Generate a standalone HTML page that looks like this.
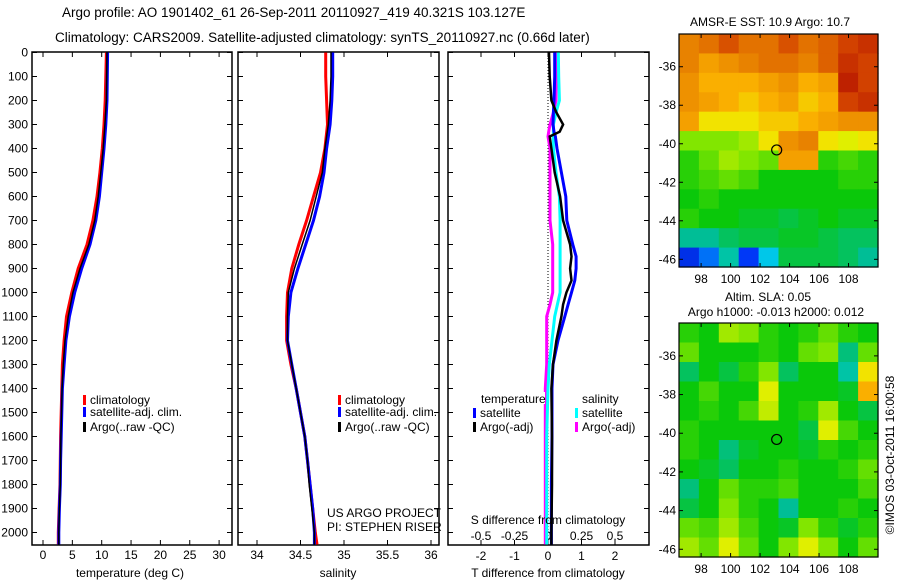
<!DOCTYPE html>
<html><head><meta charset="utf-8"><style>
html,body{margin:0;padding:0;background:#fff;width:900px;height:580px;overflow:hidden}
svg{display:block;font-family:"Liberation Sans",sans-serif;font-size:12px}
</style></head><body>
<svg id="fig" width="900" height="580" xmlns="http://www.w3.org/2000/svg">
<text x="62" y="17" style="font-size:13.5px">Argo profile: AO 1901402_61 26-Sep-2011 20110927_419 40.321S 103.127E</text>
<text x="55" y="42" style="font-size:13.5px">Climatology: CARS2009. Satellite-adjusted climatology: synTS_20110927.nc (0.66d later)</text>
<g id="g"></g>
</svg>
<script>
const depths=[0,100,200,300,400,500,600,700,800,900,1000,1100,1200,1300,1400,1500,1600,1700,1800,1900,2000,2050];
const tempClim=[10.8,10.7,10.6,10.4,10.1,9.7,9.2,8.5,7.5,6.0,4.9,4.0,3.6,3.3,3.2,3.1,3.0,2.95,2.9,2.75,2.6,2.6];
const tempSat=[11.0,10.95,10.9,10.7,10.4,10.0,9.6,9.0,8.0,6.6,5.4,4.5,3.9,3.6,3.3,3.2,3.1,3.0,2.95,2.8,2.7,2.7];
const tempArgo=[10.9,10.85,10.8,10.55,10.25,9.85,9.4,8.8,7.8,6.3,5.1,4.3,3.75,3.45,3.25,3.15,3.05,3.0,2.95,2.8,2.7,2.7];
const salClim=[34.79,34.79,34.80,34.81,34.78,34.73,34.65,34.57,34.48,34.40,34.35,34.34,34.34,34.39,34.45,34.50,34.55,34.58,34.61,34.64,34.67,34.69];
const salSat=[34.87,34.87,34.86,34.84,34.80,34.77,34.72,34.65,34.56,34.47,34.39,34.36,34.35,34.40,34.45,34.50,34.55,34.58,34.61,34.64,34.66,34.66];
const salArgo=[34.85,34.85,34.84,34.82,34.78,34.75,34.68,34.61,34.52,34.43,34.36,34.35,34.35,34.40,34.45,34.50,34.55,34.58,34.60,34.63,34.66,34.66];
const diffDepths=[0,100,200,250,300,330,350,400,500,600,700,800,850,900,950,1000,1050,1100,1200,1300,1400,1600,1800,2000,2050];
const tDiffSat=[0.2,0.2,0.18,0.16,0.15,0.18,0.22,0.27,0.4,0.53,0.56,0.74,0.84,0.84,0.8,0.7,0.6,0.5,0.3,0.15,0.12,0.12,0.1,0.1,0.1];
const tDiffArgo=[0.03,0.05,0.1,0.25,0.45,0.35,0.05,0.1,0.2,0.36,0.45,0.66,0.7,0.66,0.7,0.55,0.45,0.4,0.25,0.15,0.1,0.12,0.12,0.1,0.1];
const sDiffSat=[0.077,0.08,0.085,0.06,0.04,0.04,0.04,0.04,0.06,0.085,0.09,0.09,0.09,0.09,0.09,0.09,0.07,0.05,0.03,0.01,0,-0.01,-0.01,-0.01,-0.01];
const sDiffArgo=[0.06,0.06,0.06,0.04,0.015,0.005,0,0.015,0.015,0.015,0.015,0.035,0.035,0.035,0.035,0.035,0.015,-0.01,-0.01,-0.01,-0.02,-0.02,-0.02,-0.02,-0.02];
const depthTicks=[0,100,200,300,400,500,600,700,800,900,1000,1100,1200,1300,1400,1500,1600,1700,1800,1900,2000];
const tempTicks=[0,5,10,15,20,25,30];
const salTicks=[34,34.5,35,35.5,36];
const tDiffTicks=[-2,-1,0,1,2];
const sDiffTicks=[-0.5,-0.25,0,0.25,0.5];
const lonTicks=[98,100,102,104,106,108];
const latTicks=[-36,-38,-40,-42,-44,-46];
const sstGrid=[
[0.76,0.78,0.82,0.78,0.78,0.82,0.78,0.8,0.84,0.86],
[0.76,0.72,0.74,0.76,0.78,0.78,0.76,0.8,0.86,0.84],
[0.74,0.70,0.70,0.70,0.72,0.74,0.70,0.72,0.88,0.84],
[0.74,0.72,0.70,0.68,0.70,0.72,0.68,0.70,0.84,0.86],
[0.72,0.66,0.66,0.66,0.68,0.68,0.70,0.72,0.74,0.74],
[0.58,0.58,0.58,0.60,0.66,0.74,0.76,0.66,0.64,0.66],
[0.52,0.56,0.60,0.58,0.56,0.72,0.72,0.52,0.54,0.52],
[0.52,0.54,0.56,0.54,0.50,0.50,0.50,0.50,0.52,0.52],
[0.50,0.52,0.50,0.50,0.50,0.50,0.50,0.50,0.50,0.50],
[0.52,0.50,0.50,0.48,0.48,0.46,0.48,0.50,0.48,0.48],
[0.40,0.40,0.44,0.46,0.46,0.48,0.48,0.46,0.44,0.44],
[0.12,0.20,0.38,0.14,0.28,0.46,0.46,0.46,0.44,0.40]];
const slaGrid=[
[0.52,0.50,0.60,0.58,0.52,0.50,0.52,0.56,0.52,0.50],
[0.56,0.50,0.50,0.50,0.52,0.50,0.56,0.58,0.42,0.56],
[0.44,0.50,0.46,0.52,0.58,0.44,0.50,0.50,0.38,0.66],
[0.50,0.54,0.50,0.50,0.64,0.50,0.50,0.50,0.48,0.70],
[0.50,0.52,0.50,0.54,0.62,0.50,0.52,0.60,0.50,0.46],
[0.52,0.50,0.50,0.50,0.50,0.50,0.46,0.64,0.54,0.50],
[0.52,0.50,0.42,0.48,0.50,0.50,0.48,0.52,0.50,0.52],
[0.50,0.48,0.44,0.50,0.50,0.52,0.50,0.50,0.52,0.56],
[0.42,0.50,0.56,0.52,0.52,0.54,0.50,0.50,0.50,0.54],
[0.46,0.50,0.58,0.52,0.50,0.40,0.50,0.50,0.52,0.50],
[0.56,0.54,0.60,0.54,0.50,0.48,0.58,0.52,0.48,0.52],
[0.60,0.56,0.64,0.56,0.50,0.58,0.64,0.58,0.50,0.56]];
const floatLon=103.127, floatLat=-40.321;

const NS='http://www.w3.org/2000/svg';
const G=document.getElementById('g');
function mk(tag,at,parent){const e=document.createElementNS(NS,tag);for(const k in at)e.setAttribute(k,at[k]);(parent||G).appendChild(e);return e;}
function txt(x,y,s,anchor){const t=mk('text',{x:x,y:y,'text-anchor':anchor||'start'});t.textContent=s;return t;}
const Y=d=>52.5+d*0.24;
const PB=545;
const xT=v=>43+v*5.87, xS=v=>257+(v-34)*87, xTd=v=>548+v*33.5, xSd=v=>548+v*134;
function frame(x0,x1,name){
  const r=mk('rect',{x:x0,y:52,width:x1-x0,height:PB-52,fill:'none',stroke:'#000','stroke-width':1.5});
  
  
  depthTicks.forEach(d=>{mk('line',{x1:x0,x2:x0+5,y1:Y(d),y2:Y(d),stroke:'#000'});mk('line',{x1:x1-5,x2:x1,y1:Y(d),y2:Y(d),stroke:'#000'});});
}
function xticks(ticks,f,y){ticks.forEach(v=>{const x=f(v);mk('line',{x1:x,x2:x,y1:52,y2:57,stroke:'#000'});mk('line',{x1:x,x2:x,y1:PB-5,y2:PB,stroke:'#000'});const t=txt(x,y,String(v),'middle');});}
function line(xs,ds,f,col,name,w){const p=mk('polyline',{points:xs.map((v,i)=>f(v).toFixed(1)+','+Y(ds[i]).toFixed(1)).join(' '),fill:'none',stroke:col,'stroke-width':w||3});}
depthTicks.forEach(d=>{const t=txt(28,Y(d)+4,String(d),'end');});
frame(32,232,'temperature-panel');
xticks(tempTicks,xT,559);
line(tempClim,depths,xT,'#f00','temp-climatology-line');
line(tempSat,depths,xT,'#00f','temp-satellite-line');
line(tempArgo,depths,xT,'#000','temp-argo-line',1.5);
let t=txt(130,577,'temperature (deg C)','middle');
function legend(x,y,col,label){mk('rect',{x:x,y:y-9,width:3,height:10,fill:col});const tt=txt(x+7,y,label);}
legend(83,404,'#f00','climatology');legend(83,416,'#00f','satellite-adj. clim.');legend(83,431,'#000','Argo(..raw -QC)');
frame(238,439,'salinity-panel');
xticks(salTicks,xS,559);
line(salClim,depths,xS,'#f00','sal-climatology-line');
line(salSat,depths,xS,'#00f','sal-satellite-line');
line(salArgo,depths,xS,'#000','sal-argo-line',1.5);
t=txt(338,577,'salinity','middle');
legend(338,404,'#f00','climatology');legend(338,416,'#00f','satellite-adj. clim.');legend(338,431,'#000','Argo(..raw -QC)');
t=txt(327,517,'US ARGO PROJECT');
t=txt(327,531,'PI: STEPHEN RISER');
frame(448,649,'difference-panel');
mk('line',{x1:548,x2:548,y1:52,y2:PB,stroke:'#000','stroke-dasharray':'1,2'});
xticks(tDiffTicks,xTd,560);
sDiffTicks.forEach(v=>{const tt=txt(xSd(v),540,String(v),'middle');});
line(sDiffArgo,diffDepths,xSd,'#f0f','sdiff-argo-line');
line(sDiffSat,diffDepths,xSd,'#0ff','sdiff-satellite-line');
line(tDiffSat,diffDepths,xTd,'#00f','tdiff-satellite-line');
line(tDiffArgo,diffDepths,xTd,'#000','tdiff-argo-line',2.5);
t=txt(548,524,'S difference from climatology','middle');
t=txt(548,577,'T difference from climatology','middle');
mk('rect',{x:481,y:392,width:64,height:12,fill:'#fff'});
t=txt(481,403,'temperature');
t=txt(582,403,'salinity');
legend(473,417,'#00f','satellite');legend(473,431,'#000','Argo(-adj)');
legend(575,417,'#0ff','satellite');legend(575,431,'#f0f','Argo(-adj)');
const cmapStops=[[0,[0,0,140]],[0.15,[0,60,255]],[0.3,[0,220,230]],[0.4,[0,190,150]],[0.5,[10,200,10]],[0.58,[130,230,0]],[0.65,[240,240,0]],[0.70,[250,175,0]],[0.76,[232,130,0]],[0.84,[210,65,0]],[0.92,[170,0,0]],[1,[120,0,0]]];
function cmap(v){for(let i=1;i<cmapStops.length;i++){const[a,ca]=cmapStops[i-1],[b,cb]=cmapStops[i];if(v<=b){const f=(v-a)/(b-a);return 'rgb('+ca.map((c,k)=>Math.round(c+(cb[k]-c)*f)).join(',')+')';}}return 'rgb(120,0,0)';}
function map(grid,x0,y0,w,h,latTop,latBot,name){
  const lonL=96.5,lonR=110;
  const X=lon=>x0+(lon-lonL)/(lonR-lonL)*w, Yl=lat=>y0+(latTop-lat)/(latTop-latBot)*h;
  const rows=grid.length,cols=grid[0].length;
  const gg=mk('g',{});
  grid.forEach((row,i)=>row.forEach((v,j)=>{const c=mk('rect',{x:(x0+j*w/cols).toFixed(2),y:(y0+i*h/rows).toFixed(2),width:(w/cols+0.6).toFixed(2),height:(h/rows+0.6).toFixed(2),fill:cmap(v)},gg);}));
  mk('rect',{x:x0,y:y0,width:w,height:h,fill:'none',stroke:'#000','stroke-width':1.2});
  lonTicks.forEach(l=>{const x=X(l);mk('line',{x1:x,x2:x,y1:y0,y2:y0+4,stroke:'#000'});mk('line',{x1:x,x2:x,y1:y0+h-4,y2:y0+h,stroke:'#000'});const tt=txt(x,y0+h+16,String(l),'middle');});
  latTicks.forEach(l=>{const y=Yl(l);mk('line',{x1:x0,x2:x0+4,y1:y,y2:y,stroke:'#000'});mk('line',{x1:x0+w-4,x2:x0+w,y1:y,y2:y,stroke:'#000'});const tt=txt(x0-3,y+4,String(l),'end');});
  const c=mk('circle',{cx:X(floatLon),cy:Yl(floatLat),r:5,fill:'none',stroke:'#000','stroke-width':1.2});
}
map(sstGrid,679,34,199,233,-34.3,-46.4,'sst-map');
map(slaGrid,679,323,199,234,-34.3,-46.4,'sla-map');
t=txt(770,26,'AMSR-E SST: 10.9 Argo: 10.7','middle');
t=txt(768,301,'Altim. SLA: 0.05','middle');
t=txt(776,316,'Argo h1000: -0.013 h2000: 0.012','middle');
t=txt(0,0,'©IMOS 03-Oct-2011 16:00:58','middle');t.setAttribute('transform','translate(894,455) rotate(-90)');
</script>
</body></html>
